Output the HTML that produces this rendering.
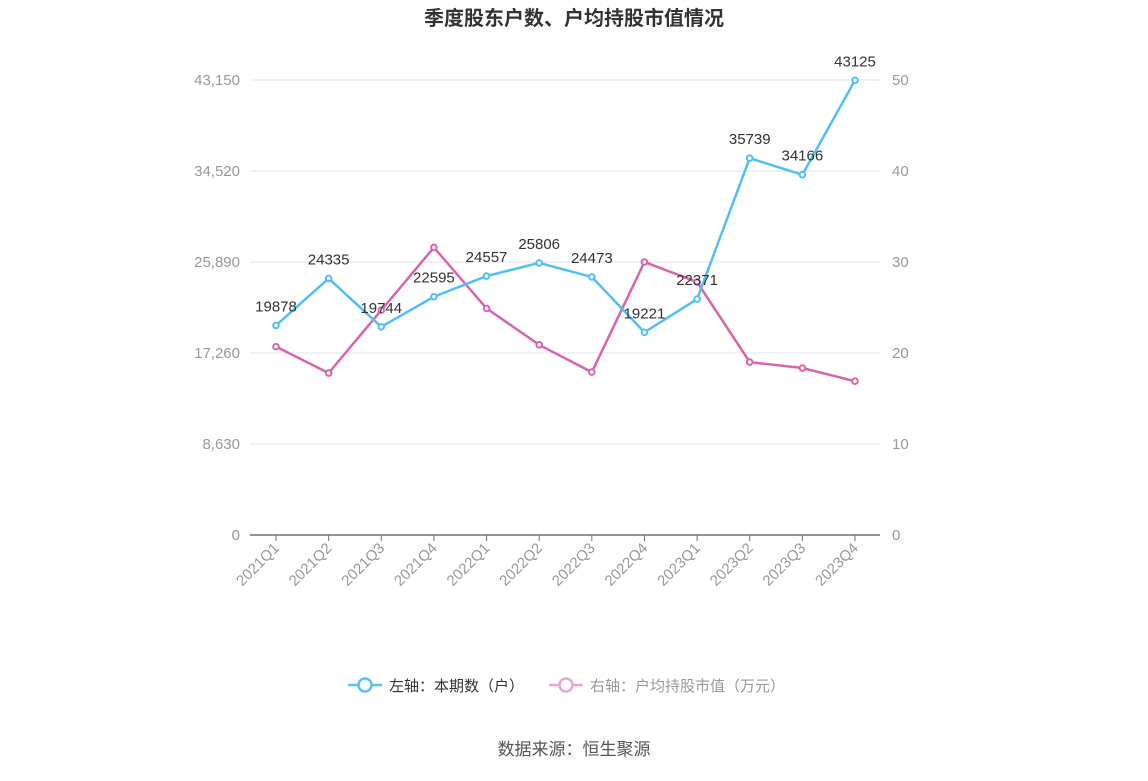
<!DOCTYPE html>
<html><head><meta charset="utf-8"><style>
body{margin:0;background:#fff;width:1148px;height:776px;overflow:hidden;font-family:"Liberation Sans","Noto Sans CJK SC",sans-serif}
</style></head><body>
<svg id="c" width="1148" height="776" xmlns="http://www.w3.org/2000/svg" style="font-family:'Liberation Sans','Noto Sans CJK SC',sans-serif">
<text x="574" y="25" text-anchor="middle" font-size="20" font-weight="bold" fill="#333">季度股东户数、户均持股市值情况</text>
<g id="grid"></g><g id="axes"></g><g id="series"></g><g id="labels"></g>
<g>
<g><line x1="348" y1="685" x2="382" y2="685" stroke="#5bc0f5" stroke-width="2.5"/><circle cx="365" cy="685" r="6.5" fill="#fff" stroke="#5bc0f5" stroke-width="2.5"/><text x="389" y="691" font-size="15" fill="#333">左轴：本期数（户）</text></g>
<g><line x1="549" y1="685" x2="583" y2="685" stroke="#eaa6d2" stroke-width="2.5"/><circle cx="566" cy="685" r="6.5" fill="#fff" stroke="#eaa6d2" stroke-width="2.5"/><text x="590" y="691" font-size="15" fill="#999">右轴：户均持股市值（万元）</text></g>
</g>
<text x="574" y="755" text-anchor="middle" font-size="17" fill="#555">数据来源：恒生聚源</text>
</svg>
<script>
const categories=["2021Q1","2021Q2","2021Q3","2021Q4","2022Q1","2022Q2","2022Q3","2022Q4","2023Q1","2023Q2","2023Q3","2023Q4"];
const holders=[19878,24335,19744,22595,24557,25806,24473,19221,22371,35739,34166,43125];
const avgValue=[20.7,17.8,24.7,31.6,24.9,20.9,17.9,30.0,27.8,19.0,18.35,16.9];
const leftTicks=[0,8630,17260,25890,34520,43150];
const leftTickLabels=["0","8,630","17,260","25,890","34,520","43,150"];
const rightTicks=[0,10,20,30,40,50];
const NS="http://www.w3.org/2000/svg";
const y0=535,yTop=80,x0=276,step=(855-276)/11;
const yL=v=>y0-(v/43150)*(y0-yTop);
const yR=v=>y0-(v/50)*(y0-yTop);
const xC=i=>x0+i*step;
function mk(tag,attrs,parent,txt){const e=document.createElementNS(NS,tag);for(const k in attrs)e.setAttribute(k,attrs[k]);if(txt!==undefined)e.textContent=txt;document.getElementById(parent).appendChild(e);return e;}
leftTicks.forEach((t,i)=>{
 const y=yL(t);
 if(t>0){const g=mk('line',{x1:250,x2:880,y1:y,y2:y,stroke:'#e0e3ee','stroke-width':1},'grid');
 
 }
 const l=mk('text',{x:240,y:y+5,'text-anchor':'end','font-size':15,fill:'#999'},'axes',leftTickLabels[i]);
 
 
});
rightTicks.forEach(t=>{
 const r=mk('text',{x:892,y:yR(t)+5,'font-size':15,fill:'#999'},'axes',String(t));
 
 
});
const ax=mk('line',{x1:250,x2:880,y1:y0,y2:y0,stroke:'#6e7079','stroke-width':1.5},'axes');


categories.forEach((c,i)=>{
 const x=xC(i);
 const tk=mk('line',{x1:x,x2:x,y1:y0,y2:y0+6,stroke:'#6e7079'},'axes');
 
 
 const t=mk('text',{x:x+4,y:y0+14,'text-anchor':'end','font-size':15,fill:'#999',transform:`rotate(-45 ${x+4} ${y0+14})`},'axes',c);
 
 
});
function series(vals,yf,color,name){
 const p=mk('polyline',{points:vals.map((v,i)=>xC(i)+','+yf(v)).join(' '),fill:'none',stroke:color,'stroke-width':2.5},'series');
 
 
 vals.forEach((v,i)=>{
  const c=mk('circle',{cx:xC(i),cy:yf(v),r:2.8,fill:'#fff',stroke:color,'stroke-width':2},'series');
  
  
 });
}
series(avgValue,yR,'#d966aa','avg-value');
series(holders,yL,'#52bff5','holders');
holders.forEach((v,i)=>{
 const t=mk('text',{x:xC(i),y:yL(v)-14,'text-anchor':'middle','font-size':15,fill:'#333'},'labels',String(v));
 
 
});
</script>
</body></html>
